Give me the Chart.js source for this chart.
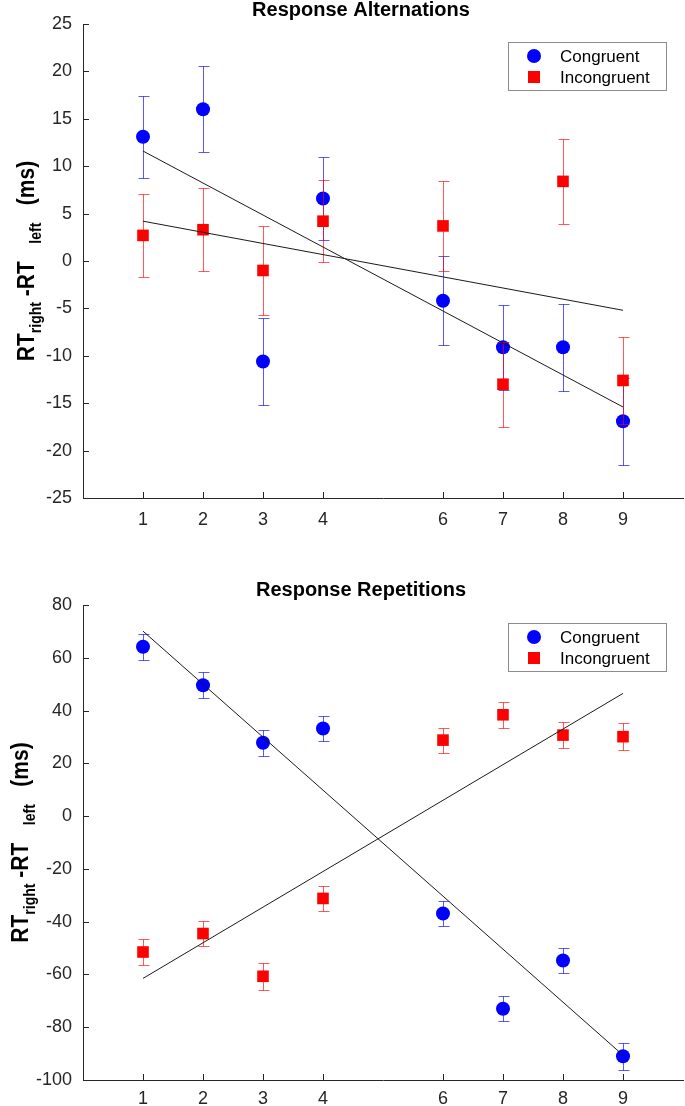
<!DOCTYPE html>
<html>
<head>
<meta charset="utf-8">
<script src="https://cdn.jsdelivr.net/npm/chart.js@4.4.1/dist/chart.umd.min.js"></script>
<style>
    body { margin: 0; background: #fff; }
    canvas { display: block; }
</style>
</head>
<body>
<canvas id="alt-chart" width="685" height="553"></canvas>
<canvas id="rep-chart" width="685" height="553"></canvas>
<script>
// Data

const xValues = [1, 2, 3, 4, 6, 7, 8, 9];
const xTicks = [1, 2, 3, 4, 6, 7, 8, 9];
const fitX = [1, 9];

// Response Alternations
const altCongruent = [13.1, 16.0, -10.6, 6.6, -4.2, -9.1, -9.1, -16.9];
const altCongruentErr = [4.35, 4.55, 4.55, 4.4, 4.7, 4.5, 4.6, 4.6];
const altIncongruent = [2.7, 3.3, -1.0, 4.2, 3.7, -13.0, 8.4, -12.6];
const altIncongruentErr = [4.4, 4.4, 4.7, 4.3, 4.75, 4.5, 4.5, 4.6];
const altCongruentFit = [11.6, -15.4];
const altIncongruentFit = [4.2, -5.2];

// Response Repetitions
const repCongruent = [64.2, 49.6, 27.8, 33.2, -36.9, -73.0, -54.7, -91.0];
const repCongruentErr = [4.9, 4.9, 5.0, 4.7, 4.8, 4.8, 4.8, 5.2];
const repIncongruent = [-51.5, -44.5, -60.7, -31.2, 28.8, 38.4, 30.7, 30.1];
const repIncongruentErr = [4.9, 4.9, 5.2, 4.6, 4.7, 4.9, 4.9, 5.1];
const repCongruentFit = [70.1, -90.6];
const repIncongruentFit = [-61.5, 46.5];

const FONT = "'Liberation Sans', Arial, sans-serif";
const AXIS_COLOR = '#262626';

// --- Plugins ---

const errorBars = {
    id: 'errorBars',
    beforeDatasetDraw(chart, args) {
        const ds = chart.data.datasets[args.index];
        if (!ds.errors) return;
        const { ctx, scales: { x, y } } = chart;
        ctx.save();
        ctx.strokeStyle = ds.errorColor;
        ctx.lineWidth = 1;
        ctx.beginPath();
        ds.data.forEach((p, i) => {
            const px = Math.round(x.getPixelForValue(p.x)) + 0.5;
            const top = Math.round(y.getPixelForValue(p.y + ds.errors[i])) + 0.5;
            const bot = Math.round(y.getPixelForValue(p.y - ds.errors[i])) + 0.5;
            ctx.moveTo(px, top); ctx.lineTo(px, bot);
            ctx.moveTo(px - 5, top); ctx.lineTo(px + 6, top);
            ctx.moveTo(px - 5, bot); ctx.lineTo(px + 6, bot);
        });
        ctx.stroke();
        ctx.restore();
    }
};

const innerTicks = {
    id: 'innerTicks',
    afterDraw(chart) {
        const { ctx, chartArea: a, scales: { x, y } } = chart;
        ctx.save();
        ctx.strokeStyle = AXIS_COLOR;
        ctx.lineWidth = 1;
        ctx.beginPath();
        x.ticks.forEach(t => {
            const px = Math.round(x.getPixelForValue(t.value)) + 0.5;
            ctx.moveTo(px, a.bottom);
            ctx.lineTo(px, a.bottom - 6);
        });
        y.ticks.forEach(t => {
            const py = Math.round(y.getPixelForValue(t.value)) + 0.5;
            ctx.moveTo(a.left, py);
            ctx.lineTo(a.left + 6, py);
        });
        ctx.stroke();
        ctx.restore();
    }
};

// title, rotated y label with subscripts, and boxed legend
const panelDecor = {
    id: 'panelDecor',
    afterDraw(chart, args, opts) {
        const { ctx, chartArea: a } = chart;
        ctx.save();

        // title
        ctx.fillStyle = '#000';
        ctx.font = `bold 20px ${FONT}`;
        ctx.textAlign = 'center';
        ctx.textBaseline = 'alphabetic';
        ctx.fillText(opts.title, 361, opts.titleY);

        // y label
        const parts = [
            ['RT', false], ['right', true], [' -RT', false], ['   ', false],
            ['left', true], ['   ', false], ['(ms)', false]
        ];
        const mainFont = `bold 21px ${FONT}`;
        const subFont = `bold 14px ${FONT}`;
        let total = 0;
        parts.forEach(([txt, sub]) => {
            ctx.font = sub ? subFont : mainFont;
            total += ctx.measureText(txt).width;
        });
        ctx.translate(opts.labelX, (a.top + a.bottom) / 2);
        ctx.rotate(-Math.PI / 2);
        ctx.scale(1, 1.15);
        ctx.textAlign = 'left';
        let pos = -total / 2;
        parts.forEach(([txt, sub]) => {
            ctx.font = sub ? subFont : mainFont;
            ctx.fillText(txt, pos, sub ? 6 : 0);
            pos += ctx.measureText(txt).width;
        });
        ctx.setTransform(1, 0, 0, 1, 0, 0);

        // legend
        const lg = opts.legend;
        ctx.fillStyle = '#fff';
        ctx.fillRect(lg.x, lg.y, lg.w, lg.h);
        ctx.strokeStyle = '#8c8c8c';
        ctx.lineWidth = 1;
        ctx.strokeRect(lg.x + 0.5, lg.y + 0.5, lg.w, lg.h);
        const items = chart.data.datasets.filter(d => d.label);
        ctx.font = `17px ${FONT}`;
        ctx.textBaseline = 'middle';
        items.forEach((d, i) => {
            const cy = lg.y + 14 + i * 21;
            const cx = lg.x + 26;
            ctx.fillStyle = d.backgroundColor;
            if (d.pointStyle === 'circle') {
                ctx.beginPath();
                ctx.arc(cx, cy, 7, 0, Math.PI * 2);
                ctx.fill();
            } else {
                ctx.fillRect(cx - 6, cy - 6, 12, 12);
            }
            ctx.fillStyle = '#000';
            ctx.fillText(d.label, lg.x + 52, cy + 1);
        });
        ctx.restore();
    }
};

// --- Chart builder ---

function makePanel(canvasId, cfg) {
    const canvas = document.getElementById(canvasId);
    const H = canvas.height;
    const tickFont = { family: FONT, size: 18 };

    const datasets = [
        {
            label: 'Congruent',
            data: xValues.map((x, i) => ({ x, y: cfg.cong[i] })),
            errors: cfg.congErr,
            errorColor: 'rgba(0,0,255,0.65)',
            pointStyle: 'circle',
            pointRadius: 7,
            backgroundColor: '#0000ff',
            borderColor: '#0000ff',
            borderWidth: 0,
            order: 2,
        },
        {
            label: 'Incongruent',
            data: xValues.map((x, i) => ({ x, y: cfg.incong[i] })),
            errors: cfg.incongErr,
            errorColor: 'rgba(255,0,0,0.65)',
            pointStyle: 'rect',
            pointRadius: 8.2,
            backgroundColor: '#ff0000',
            borderColor: '#ff0000',
            borderWidth: 0,
            order: 1,
        },
        {
            type: 'line',
            data: fitX.map((x, i) => ({ x, y: cfg.congFit[i] })),
            borderColor: '#1a1a1a',
            borderWidth: 1,
            pointRadius: 0,
            fill: false,
            order: 0,
        },
        {
            type: 'line',
            data: fitX.map((x, i) => ({ x, y: cfg.incongFit[i] })),
            borderColor: '#1a1a1a',
            borderWidth: 1,
            pointRadius: 0,
            fill: false,
            order: 0,
        },
    ];

    return new Chart(canvas, {
        type: 'scatter',
        data: { datasets },
        options: {
            responsive: false,
            animation: false,
            events: [],
            layout: { autoPadding: false, padding: { top: cfg.top, right: 2, left: 0, bottom: 0 } },
            scales: {
                x: {
                    type: 'linear',
                    min: 0,
                    max: 10,
                    afterBuildTicks: s => { s.ticks = xTicks.map(v => ({ value: v })); },
                    afterFit: s => { s.height = H - cfg.bottom; },
                    grid: { display: false },
                    border: { color: AXIS_COLOR, width: 1 },
                    ticks: { font: tickFont, color: AXIS_COLOR, padding: cfg.xPad, maxRotation: 0 },
                },
                y: {
                    min: cfg.yMin,
                    max: cfg.yMax,
                    afterFit: s => { s.width = 83; },
                    grid: { display: false },
                    border: { color: AXIS_COLOR, width: 1 },
                    ticks: { stepSize: cfg.yStep, font: tickFont, color: AXIS_COLOR, padding: 3 },
                },
            },
            plugins: {
                legend: { display: false },
                tooltip: { enabled: false },
                panelDecor: {
                    title: cfg.title,
                    titleY: cfg.titleY,
                    labelX: cfg.labelX,
                    legend: cfg.legend,
                },
            },
        },
        plugins: [errorBars, innerTicks, panelDecor],
    });
}

makePanel('alt-chart', {
    title: 'Response Alternations',
    titleY: 16,
    labelX: 34,
    top: 24,
    bottom: 498,
    xPad: 3,
    yMin: -25, yMax: 25, yStep: 5,
    cong: altCongruent, congErr: altCongruentErr,
    incong: altIncongruent, incongErr: altIncongruentErr,
    congFit: altCongruentFit, incongFit: altIncongruentFit,
    legend: { x: 508, y: 42, w: 158, h: 48 },
});

makePanel('rep-chart', {
    title: 'Response Repetitions',
    titleY: 43,
    labelX: 28,
    top: 52,
    bottom: 527,
    xPad: 0,
    yMin: -100, yMax: 80, yStep: 20,
    cong: repCongruent, congErr: repCongruentErr,
    incong: repIncongruent, incongErr: repIncongruentErr,
    congFit: repCongruentFit, incongFit: repIncongruentFit,
    legend: { x: 508, y: 70, w: 158, h: 48 },
});
</script>
</body>
</html>
